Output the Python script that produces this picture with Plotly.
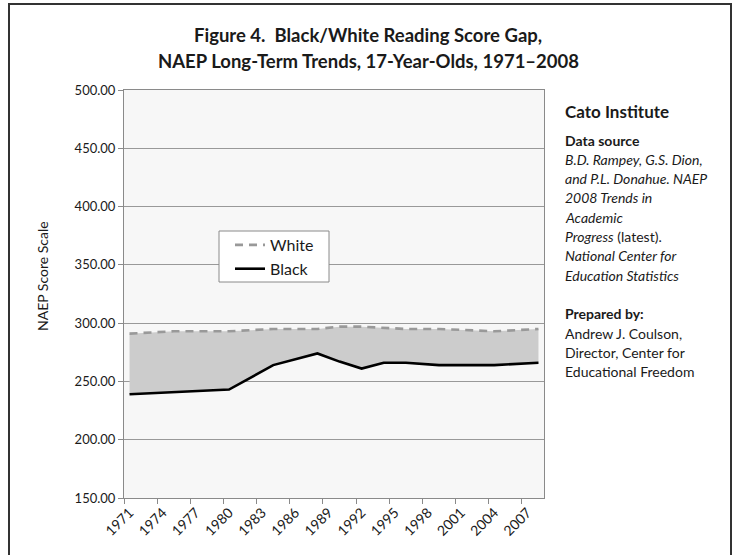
import plotly.graph_objects as go

# ---- data ----
years = [1971, 1975, 1980, 1984, 1988, 1990, 1992, 1994, 1996, 1999, 2004, 2008]
white = [291, 293, 293, 295, 295, 297, 297, 296, 295, 295, 293, 295]
black = [239, 241, 243, 264, 274, 267, 261, 266, 266, 264, 264, 266]
tick_years = list(range(1971, 2008, 3))
tick_labels = [str(y) for y in tick_years]
title_lines = ["Figure 4.  Black/White Reading Score Gap,",
               "NAEP Long-Term Trends, 17-Year-Olds, 1971\u20132008"]
side_lines = [
    "<b>Data source</b>",
    "<i>B.D. Rampey, G.S. Dion,</i>",
    "<i>and P.L. Donahue. NAEP</i>",
    "<i>2008 Trends in</i>",
    "<i>Academic</i>",
    "<i>Progress</i> (latest).",
    "<i>National Center for</i>",
    "<i>Education Statistics</i>",
    "",
    "<b>Prepared by:</b>",
    "Andrew J. Coulson,",
    "Director, Center for",
    "Educational Freedom",
]

W, H = 737, 555
L, R, T, B = 124, 544, 90, 498
FONT = "Lato"
TXT = "#1a1a1a"

def px(x):
    return (x - L) / (R - L)

def py(y):
    return (B - y) / (B - T)

fig = go.Figure()
# fill between the two series
fig.add_trace(go.Scatter(x=years, y=black, mode="lines", line=dict(width=0),
                         showlegend=False, hoverinfo="skip"))
fig.add_trace(go.Scatter(x=years, y=white, mode="lines", line=dict(width=0),
                         fill="tonexty", fillcolor="#cccccc",
                         showlegend=False, hoverinfo="skip"))
fig.add_trace(go.Scatter(x=years, y=white, mode="lines", name="White",
                         line=dict(color="#999999", width=2.6, dash="8px,6px")))
fig.add_trace(go.Scatter(x=years, y=black, mode="lines", name="Black",
                         line=dict(color="#000000", width=2.6)))

annotations = []
for txt, yy in zip(title_lines, [35, 61]):
    annotations.append(dict(text="<b>" + txt + "</b>", x=px(368), xref="paper",
                            y=py(yy), yref="paper", xanchor="center", yanchor="middle",
                            showarrow=False, font=dict(family=FONT, size=18.5, color=TXT)))
annotations.append(dict(text="<b>Cato Institute</b>", x=px(563), xref="paper",
                        y=py(111), yref="paper", xanchor="left", yanchor="middle",
                        showarrow=False, font=dict(family=FONT, size=17, color=TXT)))
y0, step = 140, 19.3
for i, txt in enumerate(side_lines):
    if not txt:
        continue
    annotations.append(dict(text=txt, x=px(563), xref="paper", y=py(y0 + i * step),
                            yref="paper", xanchor="left", yanchor="middle",
                            showarrow=False, font=dict(family=FONT, size=14, color=TXT)))
annotations.append(dict(text="NAEP Score Scale", x=px(42), xref="paper", y=py(276),
                        yref="paper", xanchor="center", yanchor="middle", textangle=-90,
                        showarrow=False, font=dict(family=FONT, size=14, color=TXT)))

fig.update_layout(
    width=W, height=H,
    margin=dict(l=L, r=W - R, t=T, b=H - B),
    paper_bgcolor="white",
    plot_bgcolor="#f7f7f7",
    font=dict(family=FONT, size=13, color=TXT),
    showlegend=True,
    legend=dict(x=px(230), y=py(228), xanchor="left", yanchor="top",
                bgcolor="rgba(0,0,0,0)", borderwidth=0, traceorder="normal",
                font=dict(family=FONT, size=16, color=TXT), itemwidth=30,
                tracegroupgap=0),
    annotations=annotations,
    shapes=[
        dict(type="rect", xref="paper", yref="paper",
             x0=px(219), x1=px(329), y0=py(282), y1=py(231),
             line=dict(color="#8a8a8a", width=1), fillcolor="white", layer="above"),
        dict(type="rect", xref="paper", yref="paper",
             x0=px(9), x1=px(731), y0=py(570), y1=py(4),
             line=dict(color="#333333", width=2), fillcolor="rgba(0,0,0,0)",
             layer="above"),
    ],
)
fig.update_xaxes(range=[1970.5, 2008.5], tickmode="array", tickvals=tick_years,
                 ticktext=tick_labels, tickangle=-45, ticks="",
                 tickfont=dict(family=FONT, size=14, color=TXT),
                 showgrid=False, zeroline=False, showline=True, mirror=True,
                 linecolor="#8a8a8a", linewidth=1,
                 minor=dict(tickmode="array", tickvals=[1970.5 + 3 * k for k in range(13)],
                            ticks="outside", ticklen=5, tickcolor="#8a8a8a", showgrid=False))
fig.update_yaxes(range=[150, 500], dtick=50, tick0=150, tickformat=".2f",
                 ticks="outside", ticklen=5, tickcolor="#8a8a8a",
                 tickfont=dict(family=FONT, size=13, color=TXT),
                 showgrid=True, gridcolor="#999999", gridwidth=1, zeroline=False,
                 showline=True, mirror=True, linecolor="#8a8a8a", linewidth=1)

fig.write_html("out.html")
